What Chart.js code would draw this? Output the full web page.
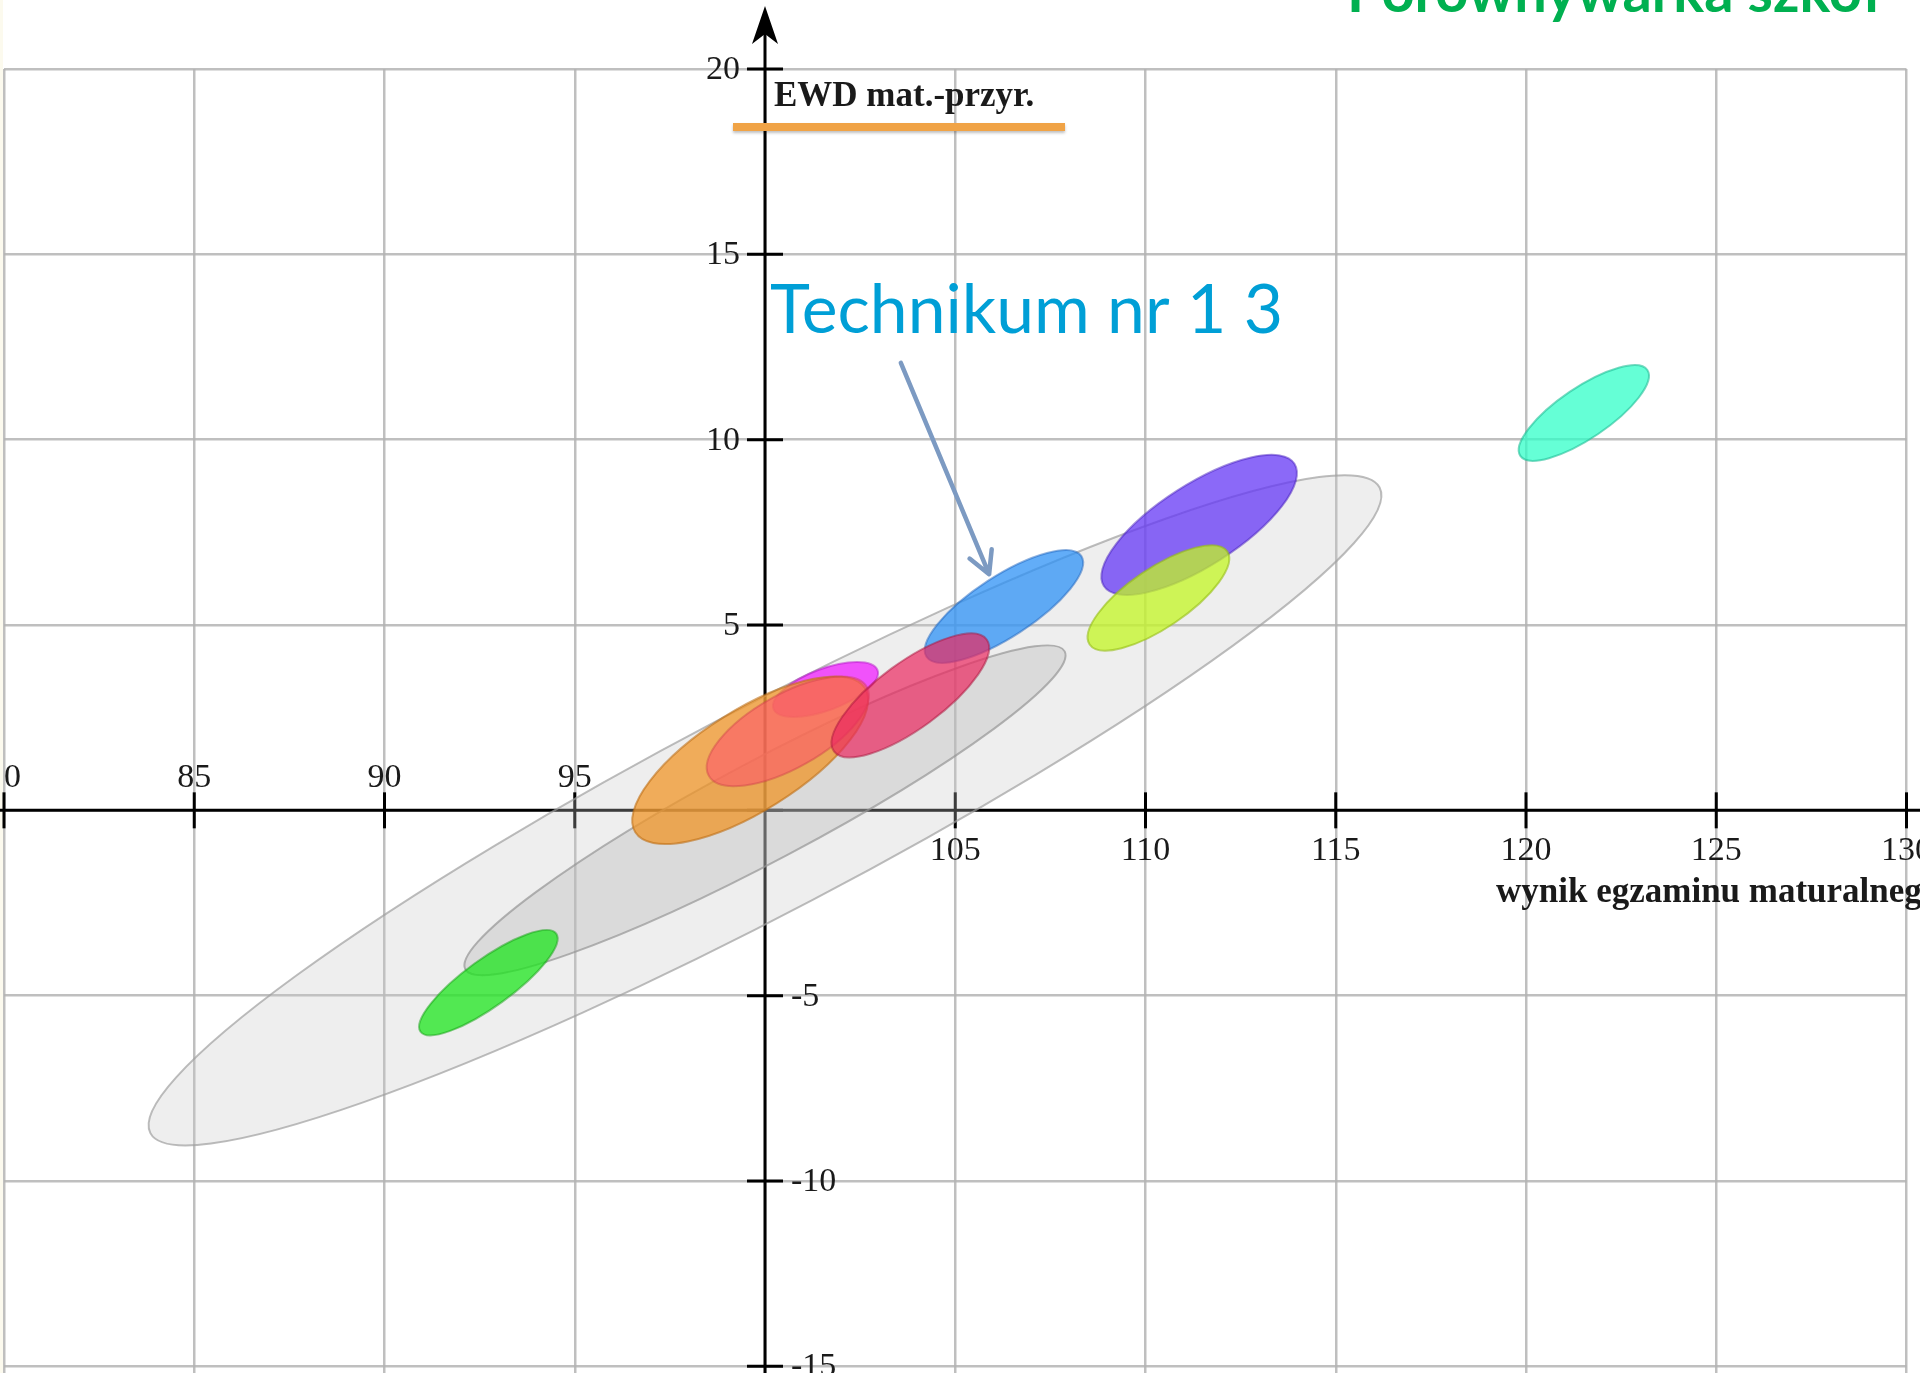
<!DOCTYPE html>
<html>
<head>
<meta charset="utf-8">
<script src="https://cdn.jsdelivr.net/npm/chart.js@4.4.0/dist/chart.umd.min.js"></script>
<style>
  html, body { margin: 0; padding: 0; background: #fff; }
  canvas { display: block; }
</style>
</head>
<body>
<canvas id="ewdChart" width="1920" height="1373"></canvas>
<script>
// osie
var xTicks = [80, 85, 90, 95, 100, 105, 110, 115, 120, 125, 130];
var yTicks = [-15, -10, -5, 0, 5, 10, 15, 20];
var xOrigin = 100;
var yOrigin = 0;

// elipsy: srodek, rozrzut (pol-szerokosc / pol-wysokosc w jednostkach osi), korelacja
var ellipseNames = ['90% szkol', '50% szkol', 'szkola A', 'szkola B', 'szkola C', 'szkola D',
  'Technikum nr 1 3', 'szkola E', 'szkola F', 'szkola G', 'szkola H'];
var centerX = [100, 100, 92.73, 101.59, 99.61, 100.60, 106.28, 103.82, 111.41, 110.34, 121.52];
var centerY = [0, 0, -4.65, 3.26, 1.35, 2.13, 5.50, 3.10, 7.70, 5.73, 10.72];
var spreadX = [16.2, 7.9, 1.82, 1.38, 3.10, 2.13, 2.08, 2.07, 2.57, 1.86, 1.71];
var spreadY = [9.04, 4.45, 1.42, 0.74, 2.26, 1.48, 1.52, 1.67, 1.89, 1.42, 1.29];
var corr = [0.94, 0.94, 0.84, 0.6, 0.72, 0.66, 0.78, 0.77, 0.74, 0.75, 0.78];

var fillColors = [
  'rgba(200, 200, 200, 0.3)',
  'rgba(180, 180, 180, 0.35)',
  'rgba(30, 230, 30, 0.75)',
  'rgba(240, 30, 255, 0.75)',
  'rgba(240, 150, 40, 0.75)',
  'rgba(255, 80, 110, 0.55)',
  'rgba(45, 145, 245, 0.75)',
  'rgba(235, 40, 95, 0.7)',
  'rgba(100, 55, 245, 0.75)',
  'rgba(195, 245, 35, 0.75)',
  'rgba(50, 255, 200, 0.75)'
];
var strokeColors = [
  'rgba(160, 160, 160, 0.7)',
  'rgba(150, 150, 150, 0.7)',
  'rgba(20, 160, 20, 0.5)',
  'rgba(180, 20, 200, 0.5)',
  'rgba(190, 110, 20, 0.6)',
  'rgba(200, 60, 70, 0.4)',
  'rgba(30, 100, 190, 0.5)',
  'rgba(170, 20, 60, 0.5)',
  'rgba(70, 30, 190, 0.5)',
  'rgba(150, 190, 20, 0.6)',
  'rgba(30, 190, 150, 0.6)'
];

// strzalka do wskazanej szkoly
var arrowFrom = { x: 103.57, y: 12.07 };
var arrowTo = { x: 105.89, y: 6.37 };
var calloutAt = { x: 100.13, y: 12.88 };

var ellipsePlugin = {
  id: 'ellipses',
  beforeDatasetsDraw: function (chart) {
    var ctx = chart.ctx;
    var xs = chart.scales.x, ys = chart.scales.y;
    var px0 = xs.getPixelForValue(xOrigin);
    var py0 = ys.getPixelForValue(yOrigin);
    var W = chart.width, H = chart.height;

    ctx.save();
    ctx.fillStyle = '#fcfaee';
    ctx.fillRect(0, 0, 3, H);

    // os X
    ctx.strokeStyle = '#000';
    ctx.lineWidth = 3;
    ctx.beginPath();
    ctx.moveTo(0, py0);
    ctx.lineTo(W, py0);
    ctx.stroke();

    // os Y ze strzalka
    ctx.beginPath();
    ctx.moveTo(px0, H);
    ctx.lineTo(px0, 30);
    ctx.stroke();
    ctx.fillStyle = '#000';
    ctx.beginPath();
    ctx.moveTo(px0, 6);
    ctx.lineTo(px0 - 13, 44);
    ctx.lineTo(px0, 34);
    ctx.lineTo(px0 + 13, 44);
    ctx.closePath();
    ctx.fill();

    ctx.lineWidth = 3;
    xTicks.forEach(function (v) {
      if (v === xOrigin) return;
      var p = xs.getPixelForValue(v);
      ctx.beginPath();
      ctx.moveTo(p, py0 - 18);
      ctx.lineTo(p, py0 + 18);
      ctx.stroke();
    });
    yTicks.forEach(function (v) {
      var p = ys.getPixelForValue(v);
      ctx.beginPath();
      ctx.moveTo(px0 - 18, p);
      ctx.lineTo(px0 + 18, p);
      ctx.stroke();
    });

    // elipsy
    var pts = chart.data.datasets[0].data;
    pts.forEach(function (pt, i) {
      var cx = xs.getPixelForValue(pt.x);
      var cy = ys.getPixelForValue(pt.y);
      var sx = Math.abs(xs.getPixelForValue(pt.x + spreadX[i]) - cx);
      var sy = Math.abs(ys.getPixelForValue(pt.y + spreadY[i]) - cy);
      var c11 = sx * sx, c22 = sy * sy, c12 = -corr[i] * sx * sy;
      var t = (c11 + c22) / 2;
      var d = Math.sqrt(Math.pow((c11 - c22) / 2, 2) + c12 * c12);
      var a = Math.sqrt(t + d), b = Math.sqrt(Math.max(t - d, 0));
      var ang = 0.5 * Math.atan2(2 * c12, c11 - c22);
      ctx.beginPath();
      ctx.ellipse(cx, cy, a, b, ang, 0, Math.PI * 2);
      ctx.fillStyle = fillColors[i];
      ctx.fill();
      ctx.lineWidth = 2;
      ctx.strokeStyle = strokeColors[i];
      ctx.stroke();
    });
    ctx.restore();
  },
  afterDraw: function (chart) {
    var ctx = chart.ctx;
    var xs = chart.scales.x, ys = chart.scales.y;
    var px0 = xs.getPixelForValue(xOrigin);
    var py0 = ys.getPixelForValue(yOrigin);

    ctx.save();
    // etykiety osi przyciete do ramki wykresu
    ctx.save();
    ctx.beginPath();
    ctx.rect(chart.chartArea.left, 0, chart.width, chart.height);
    ctx.clip();
    ctx.fillStyle = '#1a1a1a';
    ctx.font = '34px "Liberation Serif", "Times New Roman", serif';
    xTicks.forEach(function (v) {
      if (v === xOrigin) return;
      var p = xs.getPixelForValue(v);
      ctx.textAlign = 'center';
      ctx.textBaseline = 'alphabetic';
      ctx.fillText(String(v), p, v < xOrigin ? py0 - 23 : py0 + 50);
    });
    ctx.restore();

    ctx.fillStyle = '#1a1a1a';
    ctx.font = '34px "Liberation Serif", "Times New Roman", serif';
    yTicks.forEach(function (v) {
      if (v === yOrigin) return;
      var p = ys.getPixelForValue(v);
      ctx.textBaseline = 'middle';
      if (v > 0) {
        ctx.textAlign = 'right';
        ctx.fillText(String(v), px0 - 25, p + 1);
      } else {
        ctx.textAlign = 'left';
        ctx.fillText(String(v), px0 + 26, p + 1);
      }
    });

    // tytuly osi
    ctx.font = 'bold 35px "Liberation Serif", "Times New Roman", serif';
    ctx.textAlign = 'left';
    ctx.textBaseline = 'alphabetic';
    ctx.fillText('EWD mat.-przyr.', px0 + 9, 106);
    ctx.fillText('wynik egzaminu maturalnego', 1496, py0 + 92);

    ctx.shadowColor = 'rgba(0,0,0,0.25)';
    ctx.shadowBlur = 3;
    ctx.shadowOffsetY = 2;
    ctx.fillStyle = '#f0a346';
    ctx.fillRect(px0 - 32, 123, 332, 8);
    ctx.shadowColor = 'transparent';

    // strzalka
    var ax = xs.getPixelForValue(arrowFrom.x), ay = ys.getPixelForValue(arrowFrom.y);
    var bx = xs.getPixelForValue(arrowTo.x), by = ys.getPixelForValue(arrowTo.y);
    var len = Math.hypot(bx - ax, by - ay);
    var ux = (bx - ax) / len, uy = (by - ay) / len;
    ctx.strokeStyle = '#7c9ac2';
    ctx.lineWidth = 4.5;
    ctx.lineCap = 'round';
    ctx.lineJoin = 'round';
    ctx.beginPath();
    ctx.moveTo(ax, ay);
    ctx.lineTo(bx, by);
    ctx.moveTo(bx - ux * 22 - uy * 12, by - uy * 22 + ux * 12);
    ctx.lineTo(bx, by);
    ctx.lineTo(bx - ux * 22 + uy * 12, by - uy * 22 - ux * 12);
    ctx.stroke();

    ctx.fillStyle = '#009fd6';
    ctx.font = '68px Lato, "Open Sans", sans-serif';
    ctx.fillText('Technikum nr 1 3', xs.getPixelForValue(calloutAt.x), ys.getPixelForValue(calloutAt.y), 513);

    ctx.fillStyle = '#00b050';
    ctx.font = 'bold 58px Lato, "Open Sans", sans-serif';
    ctx.fillText('Porównywarka szkół', 1347, 12, 534);
    ctx.restore();
  }
};

var ctx = document.getElementById('ewdChart').getContext('2d');
var myChart = new Chart(ctx, {
  type: 'scatter',
  data: {
    datasets: [{
      label: 'EWD',
      data: centerX.map(function (x, i) { return { x: x, y: centerY[i] }; }),
      pointRadius: 0,
      pointHoverRadius: 0
    }]
  },
  options: {
    responsive: false,
    animation: false,
    devicePixelRatio: 1,
    layout: {
      padding: { left: 4, right: 13.5, top: 69, bottom: 0 }
    },
    plugins: {
      legend: { display: false },
      tooltip: { enabled: false }
    },
    scales: {
      x: {
        type: 'linear',
        min: 80,
        max: 130,
        afterBuildTicks: function (s) { s.ticks = xTicks.map(function (v) { return { value: v }; }); },
        ticks: { display: false },
        border: { display: false },
        grid: { color: 'rgba(180, 180, 180, 0.85)', lineWidth: 2.5, drawTicks: false }
      },
      y: {
        type: 'linear',
        min: -15.18,
        max: 20,
        afterBuildTicks: function (s) { s.ticks = yTicks.map(function (v) { return { value: v }; }); },
        ticks: { display: false },
        border: { display: false },
        grid: { color: 'rgba(180, 180, 180, 0.85)', lineWidth: 2.5, drawTicks: false }
      }
    }
  },
  plugins: [ellipsePlugin]
});
</script>
</body>
</html>
